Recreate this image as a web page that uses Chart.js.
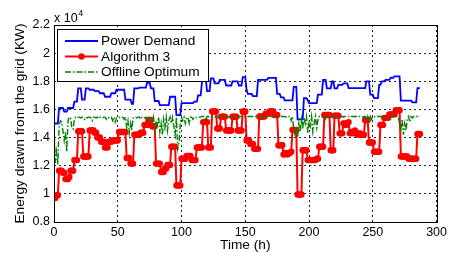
<!DOCTYPE html>
<html>
<head>
<meta charset="utf-8">
<script src="https://cdn.jsdelivr.net/npm/chart.js@4.4.0/dist/chart.umd.min.js"></script>
<style>
  html, body { margin: 0; padding: 0; background: #fff; }
  canvas { display: block; }
</style>
</head>
<body>
<canvas id="chart" width="450" height="253"></canvas>
<script>
// hourly samples, values in units of 10^4 KW
const hours = Array.from({ length: 288 }, (_, h) => h);

const seriesNames = ["Power Demand", "Algorithm 3", "Offline Optimum"];

const powerDemand = [
  1.50, 1.50, 1.50, 1.50, 1.61, 1.61, 1.61, 1.61, 1.585, 1.585, 1.585, 1.61,
  1.61, 1.61, 1.61, 1.61, 1.655, 1.655, 1.655, 1.75, 1.75, 1.75, 1.67, 1.67,
  1.67, 1.75, 1.75, 1.75, 1.74, 1.74, 1.74, 1.74, 1.73, 1.73, 1.73, 1.73,
  1.715, 1.715, 1.715, 1.715, 1.69, 1.69, 1.69, 1.69, 1.69, 1.715, 1.715, 1.715,
  1.715, 1.74, 1.74, 1.74, 1.74, 1.74, 1.74, 1.74, 1.67, 1.67, 1.67, 1.67,
  1.67, 1.64, 1.64, 1.75, 1.75, 1.75, 1.75, 1.755, 1.755, 1.755, 1.755, 1.755,
  1.755, 1.79, 1.79, 1.79, 1.75, 1.75, 1.75, 1.66, 1.66, 1.66, 1.66, 1.63,
  1.63, 1.63, 1.63, 1.63, 1.63, 1.63, 1.63, 1.69, 1.69, 1.69, 1.69, 1.69,
  1.56, 1.56, 1.56, 1.56, 1.645, 1.645, 1.645, 1.645, 1.645, 1.645, 1.645, 1.645,
  1.645, 1.645, 1.655, 1.655, 1.655, 1.70, 1.70, 1.70, 1.79, 1.82, 1.82, 1.82,
  1.73, 1.73, 1.73, 1.82, 1.82, 1.82, 1.785, 1.785, 1.785, 1.785, 1.81, 1.81,
  1.81, 1.81, 1.81, 1.77, 1.77, 1.77, 1.77, 1.77, 1.80, 1.80, 1.80, 1.80,
  1.80, 1.77, 1.77, 1.77, 1.83, 1.83, 1.83, 1.74, 1.71, 1.71, 1.71, 1.71,
  1.695, 1.695, 1.695, 1.695, 1.81, 1.81, 1.81, 1.81, 1.81, 1.81, 1.81, 1.81,
  1.824, 1.824, 1.824, 1.824, 1.824, 1.824, 1.824, 1.71, 1.71, 1.71, 1.685, 1.685,
  1.685, 1.665, 1.665, 1.665, 1.665, 1.665, 1.665, 1.665, 1.76, 1.76, 1.76, 1.53,
  1.53, 1.53, 1.53, 1.53, 1.68, 1.68, 1.68, 1.665, 1.645, 1.645, 1.645, 1.645,
  1.645, 1.645, 1.645, 1.705, 1.705, 1.705, 1.705, 1.81, 1.81, 1.81, 1.75, 1.75,
  1.75, 1.75, 1.80, 1.80, 1.75, 1.75, 1.75, 1.775, 1.775, 1.775, 1.775, 1.785,
  1.785, 1.785, 1.785, 1.752, 1.752, 1.752, 1.752, 1.752, 1.752, 1.752, 1.752, 1.752,
  1.752, 1.752, 1.752, 1.752, 1.752, 1.80, 1.80, 1.80, 1.705, 1.705, 1.705, 1.68,
  1.68, 1.68, 1.68, 1.775, 1.775, 1.80, 1.80, 1.80, 1.81, 1.81, 1.81, 1.81,
  1.825, 1.825, 1.825, 1.835, 1.835, 1.835, 1.835, 1.835, 1.662, 1.662, 1.662, 1.662,
  1.662, 1.662, 1.662, 1.662, 1.662, 1.65, 1.65, 1.65, 1.65, 1.752, 1.752, 1.752,
];

const algorithm3 = [
  0.97, 0.97, 0.99, 0.99, 1.165, 1.165, 1.165, 1.15, 1.15, 1.105, 1.105, 1.105,
  1.12, 1.165, 1.165, 1.165, 1.24, 1.24, 1.24, 1.445, 1.445, 1.445, 1.445, 1.265,
  1.265, 1.265, 1.265, 1.265, 1.45, 1.45, 1.45, 1.45, 1.435, 1.435, 1.40, 1.40,
  1.40, 1.37, 1.37, 1.37, 1.33, 1.33, 1.33, 1.37, 1.37, 1.37, 1.38, 1.38,
  1.38, 1.38, 1.38, 1.44, 1.44, 1.44, 1.44, 1.44, 1.44, 1.255, 1.255, 1.255,
  1.215, 1.215, 1.215, 1.42, 1.42, 1.42, 1.42, 1.42, 1.435, 1.435, 1.435, 1.49,
  1.49, 1.49, 1.525, 1.525, 1.525, 1.48, 1.48, 1.48, 1.215, 1.215, 1.215, 1.215,
  1.155, 1.155, 1.155, 1.18, 1.18, 1.205, 1.205, 1.205, 1.335, 1.335, 1.335, 1.335,
  1.06, 1.06, 1.06, 1.06, 1.25, 1.25, 1.25, 1.25, 1.27, 1.27, 1.27, 1.27,
  1.24, 1.24, 1.24, 1.24, 1.33, 1.33, 1.33, 1.33, 1.33, 1.51, 1.51, 1.51,
  1.51, 1.33, 1.33, 1.33, 1.585, 1.585, 1.585, 1.585, 1.465, 1.465, 1.465, 1.548,
  1.548, 1.548, 1.548, 1.45, 1.45, 1.45, 1.45, 1.45, 1.548, 1.548, 1.548, 1.548,
  1.45, 1.45, 1.45, 1.45, 1.585, 1.585, 1.585, 1.38, 1.38, 1.38, 1.355, 1.355,
  1.355, 1.32, 1.32, 1.32, 1.32, 1.55, 1.55, 1.55, 1.55, 1.55, 1.57, 1.57,
  1.57, 1.585, 1.585, 1.585, 1.585, 1.56, 1.56, 1.56, 1.345, 1.345, 1.345, 1.345,
  1.28, 1.285, 1.29, 1.28, 1.285, 1.29, 1.30, 1.455, 1.455, 1.455, 1.455, 0.995,
  0.995, 0.995, 0.995, 1.31, 1.31, 1.31, 1.31, 1.24, 1.24, 1.24, 1.24, 1.24,
  1.24, 1.24, 1.25, 1.25, 1.335, 1.335, 1.335, 1.335, 1.56, 1.56, 1.56, 1.56,
  1.56, 1.31, 1.31, 1.31, 1.555, 1.555, 1.555, 1.555, 1.43, 1.43, 1.43, 1.50,
  1.50, 1.49, 1.50, 1.51, 1.43, 1.44, 1.43, 1.44, 1.45, 1.43, 1.42, 1.43,
  1.43, 1.42, 1.42, 1.42, 1.525, 1.525, 1.525, 1.365, 1.365, 1.365, 1.365, 1.30,
  1.30, 1.30, 1.30, 1.30, 1.49, 1.49, 1.49, 1.54, 1.54, 1.54, 1.54, 1.565,
  1.565, 1.565, 1.565, 1.565, 1.595, 1.595, 1.595, 1.595, 1.265, 1.265, 1.265, 1.265,
  1.265, 1.265, 1.25, 1.25, 1.25, 1.25, 1.25, 1.25, 1.25, 1.425, 1.425, 1.425,
];

const offlineOptimum = [
  1.50, 1.22, 1.30, 1.21, 1.48, 1.52, 1.51, 1.45, 1.38, 1.44, 1.30, 1.52, 1.545, 1.54, 1.47, 1.46, 1.53, 1.545, 1.54, 1.545,
  1.545, 1.54, 1.545, 1.545, 1.53, 1.545, 1.54, 1.545, 1.545, 1.54, 1.52, 1.545, 1.545, 1.54, 1.545, 1.535, 1.545, 1.545, 1.54, 1.545,
  1.545, 1.53, 1.545, 1.54, 1.545, 1.545, 1.52, 1.545, 1.51, 1.54, 1.545, 1.545, 1.54, 1.545, 1.545, 1.53, 1.545, 1.47, 1.52, 1.43,
  1.50, 1.45, 1.54, 1.545, 1.545, 1.54, 1.545, 1.545, 1.53, 1.545, 1.545, 1.54, 1.545, 1.52, 1.545, 1.545, 1.54, 1.50, 1.545, 1.46,
  1.52, 1.49, 1.545, 1.44, 1.50, 1.42, 1.53, 1.47, 1.545, 1.45, 1.52, 1.545, 1.50, 1.545, 1.48, 1.42, 1.545, 1.32, 1.36, 1.50,
  1.545, 1.52, 1.545, 1.50, 1.545, 1.54, 1.50, 1.545, 1.545, 1.53, 1.545, 1.545, 1.54, 1.545, 1.545, 1.545, 1.55, 1.55, 1.55, 1.52,
  1.55, 1.55, 1.545, 1.55, 1.55, 1.55, 1.545, 1.55, 1.55, 1.55, 1.55, 1.545, 1.55, 1.55, 1.55, 1.55, 1.55, 1.545, 1.55, 1.55,
  1.55, 1.55, 1.55, 1.545, 1.55, 1.55, 1.55, 1.55, 1.55, 1.55, 1.545, 1.55, 1.55, 1.55, 1.55, 1.55, 1.55, 1.545, 1.55, 1.55,
  1.55, 1.55, 1.55, 1.55, 1.55, 1.545, 1.55, 1.55, 1.55, 1.55, 1.55, 1.55, 1.545, 1.55, 1.55, 1.55, 1.55, 1.55, 1.55, 1.55,
  1.55, 1.55, 1.545, 1.55, 1.55, 1.55, 1.52, 1.55, 1.45, 1.42, 1.48, 1.40, 1.50, 1.44, 1.53, 1.46, 1.545, 1.50, 1.55, 1.43,
  1.52, 1.48, 1.55, 1.44, 1.50, 1.55, 1.47, 1.53, 1.55, 1.55, 1.545, 1.55, 1.55, 1.53, 1.55, 1.55, 1.55, 1.545, 1.55, 1.55,
  1.55, 1.55, 1.545, 1.55, 1.55, 1.55, 1.55, 1.545, 1.55, 1.55, 1.55, 1.55, 1.545, 1.55, 1.55, 1.55, 1.55, 1.55, 1.545, 1.55,
  1.55, 1.55, 1.545, 1.55, 1.55, 1.52, 1.55, 1.51, 1.55, 1.53, 1.55, 1.55, 1.545, 1.55, 1.55, 1.55, 1.55, 1.55, 1.55, 1.545,
  1.55, 1.55, 1.55, 1.55, 1.55, 1.55, 1.55, 1.545, 1.55, 1.55, 1.55, 1.50, 1.46, 1.53, 1.42, 1.50, 1.45, 1.53, 1.55, 1.51,
  1.55, 1.54, 1.55, 1.545, 1.55, 1.55, 1.55, 1.55,
];

const xTicks = [0, 50, 100, 150, 200, 250, 300];
const yTicks = [0.8, 1, 1.2, 1.4, 1.6, 1.8, 2, 2.2];
const xTitle = "Time (h)";
const yTitle = "Energy drawn from the grid (KW)";

const FONT = "'Liberation Sans', Arial, Helvetica, sans-serif";
Chart.defaults.font.family = FONT;
Chart.defaults.color = "#000";

// MATLAB-like box, exponent label and legend drawn inside the axes
const axesExtras = {
  id: "axes_extras",
  beforeDraw: (chart) => {
    const { ctx } = chart;
    ctx.save();
    ctx.fillStyle = "#fff";
    ctx.fillRect(0, 0, chart.width, chart.height);
    ctx.restore();
  },
  afterDraw: (chart) => {
    const { ctx, chartArea } = chart;
    const l = Math.round(chartArea.left) + 0.5;
    const t = Math.round(chartArea.top) + 0.5;
    const w = Math.round(chartArea.right - chartArea.left);
    const h = Math.round(chartArea.bottom - chartArea.top);
    ctx.save();
    ctx.strokeStyle = "#000";
    ctx.lineWidth = 1;
    ctx.strokeRect(l, t, w, h);

    // exponent
    ctx.fillStyle = "#000";
    ctx.textBaseline = "alphabetic";
    ctx.font = `12.5px ${FONT}`;
    ctx.fillText("x 10", 54, 21.5);
    const ew = ctx.measureText("x 10").width;
    ctx.font = `9px ${FONT}`;
    ctx.fillText("4", 54 + ew + 0.5, 16);

    // legend
    const bx = 57.5, by = 29.5, bw = 151, bh = 52;
    ctx.fillStyle = "#fff";
    ctx.fillRect(bx, by, bw, bh);
    ctx.strokeStyle = "#000";
    ctx.strokeRect(bx, by, bw, bh);
    const rows = [41, 56.5, 72];
    ctx.font = `13.7px ${FONT}`;
    ctx.textBaseline = "middle";
    chart.data.datasets.forEach((ds, i) => {
      const y = rows[i];
      ctx.save();
      ctx.strokeStyle = ds.borderColor;
      ctx.lineWidth = ds.borderWidth;
      ctx.setLineDash(ds.borderDash || []);
      ctx.beginPath();
      ctx.moveTo(65, y);
      ctx.lineTo(98, y);
      ctx.stroke();
      ctx.restore();
      if (ds.pointRadius > 0) {
        ctx.fillStyle = ds.pointBackgroundColor;
        ctx.beginPath();
        ctx.arc(81.5, y, ds.pointRadius, 0, Math.PI * 2);
        ctx.fill();
      }
      ctx.fillStyle = "#000";
      ctx.fillText(ds.label, 101, y + 0.5);
    });
    ctx.restore();
  },
};

const gridOpts = { color: "#222", lineWidth: 1, drawTicks: false };

new Chart(document.getElementById("chart").getContext("2d"), {
  type: "line",
  data: {
    labels: hours,
    datasets: [
      {
        label: seriesNames[0],
        data: powerDemand,
        borderColor: "#0000ff",
        borderWidth: 1.8,
        pointRadius: 0,
        order: 2,
      },
      {
        label: seriesNames[1],
        data: algorithm3,
        borderColor: "#ff0000",
        backgroundColor: "#ff0000",
        pointBackgroundColor: "#ff0000",
        borderWidth: 2,
        pointRadius: 3.2,
        pointBorderWidth: 0,
        order: 1,
      },
      {
        label: seriesNames[2],
        data: offlineOptimum,
        borderColor: "#008000",
        borderWidth: 1.4,
        borderDash: [6, 2, 1.5, 2],
        pointRadius: 0,
        order: 0,
      },
    ],
  },
  options: {
    responsive: false,
    animation: false,
    events: [],
    layout: { padding: { top: 25, right: 13, left: 0, bottom: 0 } },
    plugins: {
      legend: { display: false },
      tooltip: { enabled: false },
    },
    scales: {
      x: {
        type: "linear",
        min: 0,
        max: 300,
        afterBuildTicks: (s) => { s.ticks = xTicks.map((v) => ({ value: v })); },
        afterFit: (s) => { s.height = 31; },
        ticks: { font: { size: 12.5 }, padding: 3, maxRotation: 0 },
        grid: gridOpts,
        border: { display: false, dash: [2, 3] },
        title: { display: true, text: xTitle, font: { size: 13.7 }, padding: 0 },
      },
      y: {
        min: 0.8,
        max: 2.2,
        afterBuildTicks: (s) => { s.ticks = yTicks.map((v) => ({ value: v })); },
        afterFit: (s) => { s.width = 54; },
        ticks: {
          font: { size: 12.5 },
          padding: 4,
          callback: (v) => String(+v.toFixed(1)),
        },
        grid: gridOpts,
        border: { display: false, dash: [2, 3] },
        title: {
          display: true,
          text: yTitle,
          font: { size: 13.7 },
          padding: { top: 12, bottom: 0 },
        },
      },
    },
  },
  plugins: [axesExtras],
});
</script>
</body>
</html>
